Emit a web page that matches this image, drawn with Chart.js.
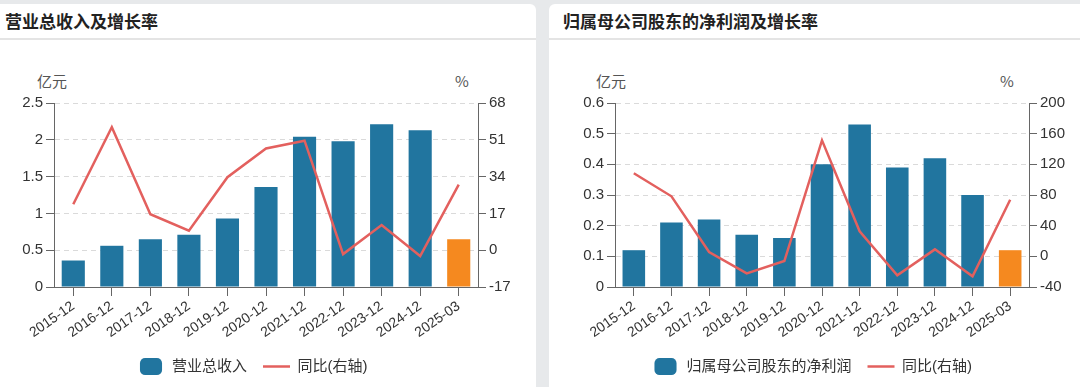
<!DOCTYPE html>
<html><head><meta charset="utf-8">
<script src="https://cdn.jsdelivr.net/npm/chart.js@4.4.1/dist/chart.umd.min.js"></script>
<style>
html,body{margin:0;padding:0;}
body{width:1080px;height:387px;background:#e7e9eb;position:relative;overflow:hidden;font-family:"Liberation Sans","Noto Sans CJK SC",sans-serif;}
.panel{position:absolute;top:4px;height:400px;background:#fff;border-radius:6px;}
.title{position:absolute;top:0;left:14px;height:34px;line-height:34px;font-size:17px;font-weight:bold;color:#222;font-family:"Noto Sans CJK SC",sans-serif;}
.divider{position:absolute;top:34px;left:0;right:0;height:2px;background:#e4e4e4;}
.unit{position:absolute;font-size:15px;color:#555;transform:translate(-50%,-50%);white-space:nowrap;font-family:"Noto Sans CJK SC",sans-serif;}
canvas{position:absolute;}
</style>
</head>
<body>
<div class="panel" style="left:-9px;width:545px;"><div class="title">营业总收入及增长率</div><div class="divider"></div></div>
<div class="panel" style="left:549px;width:540px;"><div class="title">归属母公司股东的净利润及增长率</div><div class="divider"></div></div>
<div class="unit" style="left:52px;top:80px;">亿元</div>
<div class="unit" style="left:462px;top:80px;">%</div>
<div class="unit" style="left:611px;top:80px;">亿元</div>
<div class="unit" style="left:1007px;top:80px;">%</div>
<canvas id="c1" width="537" height="324" style="left:-16px;top:60px;"></canvas>
<canvas id="c2" width="526" height="324" style="left:549px;top:60px;"></canvas>
<script>
const categories = ['2015-12','2016-12','2017-12','2018-12','2019-12','2020-12','2021-12','2022-12','2023-12','2024-12','2025-03'];
const revenue = [0.36,0.56,0.65,0.71,0.93,1.36,2.04,1.98,2.21,2.13,0.65];
const revenueYoY = [21.2,56.8,16.6,9.0,33.7,47.0,50.6,-1.8,11.6,-2.7,30.3];
const profit = [0.12,0.21,0.22,0.17,0.16,0.40,0.53,0.39,0.42,0.30,0.12];
const profitYoY = [108.3,78.3,5.6,-22.2,-6.1,151.3,32.6,-24.8,9.1,-26.1,73.9];
const revenueLeftTicks = [0, 2.5, 0.5];
const revenueRightTicks = [-17, 68, 17];
const profitLeftTicks = [0, 0.6, 0.1];
const profitRightTicks = [-40, 200, 40];
const barName1 = '营业总收入';
const barName2 = '归属母公司股东的净利润';
const lineName = '同比(右轴)';

const FONT = '"Liberation Sans","Noto Sans CJK SC",sans-serif';
const BLUE = '#21759f', ORANGE = '#f5891f', RED = '#e3605e', AXIS = '#666', GRID = '#dadada';
const fmt = v => String(Number(v.toFixed(3)));

function make(id, bars, yoy, barName, lt, rt, leftW, rightW) {
  const last = bars.length - 1;
  new Chart(document.getElementById(id), {
    data: {
      labels: categories,
      datasets: [
        { type: 'bar', label: barName, data: bars, yAxisID: 'y',
          backgroundColor: c => c.dataIndex === last ? ORANGE : BLUE,
          borderWidth: 0, barPercentage: 0.6, categoryPercentage: 1, pointStyle: 'rectRounded', order: 1 },
        { type: 'line', label: lineName, data: yoy, yAxisID: 'y1',
          borderColor: RED, backgroundColor: RED, borderWidth: 2.5, pointRadius: 0, tension: 0,
          pointStyle: 'line', order: 0 }
      ]
    },
    options: {
      responsive: false, animation: false,
      layout: { padding: { top: 43, left: 0, right: 0, bottom: 0 } },
      plugins: {
        tooltip: { enabled: false },
        legend: {
          position: 'bottom',
          labels: { usePointStyle: true, pointStyleWidth: 27, boxHeight: 14, padding: 16,
            color: '#333', font: { size: 15, family: FONT },
            sort: (a, b) => a.datasetIndex - b.datasetIndex }
        }
      },
      scales: {
        x: {
          offset: true,
          grid: { display: true, drawOnChartArea: false, drawTicks: true, tickLength: 9, color: AXIS, offset: false },
          border: { display: true, color: AXIS, width: 1 },
          ticks: { minRotation: 35, maxRotation: 35, autoSkip: false, color: '#333', padding: 2, font: { size: 14, family: FONT } },
          afterFit: s => { s.height = 56; }
        },
        y: {
          position: 'left', min: lt[0], max: lt[1],
          ticks: { stepSize: lt[2], color: '#333', padding: 3, font: { size: 15, family: FONT }, callback: fmt },
          grid: { color: c => (c.tick && c.tick.value === lt[0]) ? 'rgba(0,0,0,0)' : GRID, tickColor: AXIS, tickLength: 8, tickBorderDash: [] },
          border: { display: true, color: AXIS, width: 1, dash: [5, 4] },
          afterFit: s => { s.width = leftW; }
        },
        y1: {
          position: 'right', min: rt[0], max: rt[1],
          ticks: { stepSize: rt[2], color: '#333', padding: 3, font: { size: 15, family: FONT }, callback: fmt },
          grid: { drawOnChartArea: false, color: AXIS, tickLength: 8 },
          border: { display: true, color: AXIS, width: 1 },
          afterFit: s => { s.width = rightW; }
        }
      }
    }
  });
}
make('c1', revenue, revenueYoY, barName1, revenueLeftTicks, revenueRightTicks, 70, 43);
make('c2', profit, profitYoY, barName2, profitLeftTicks, profitRightTicks, 66, 46);
</script>
</body></html>
